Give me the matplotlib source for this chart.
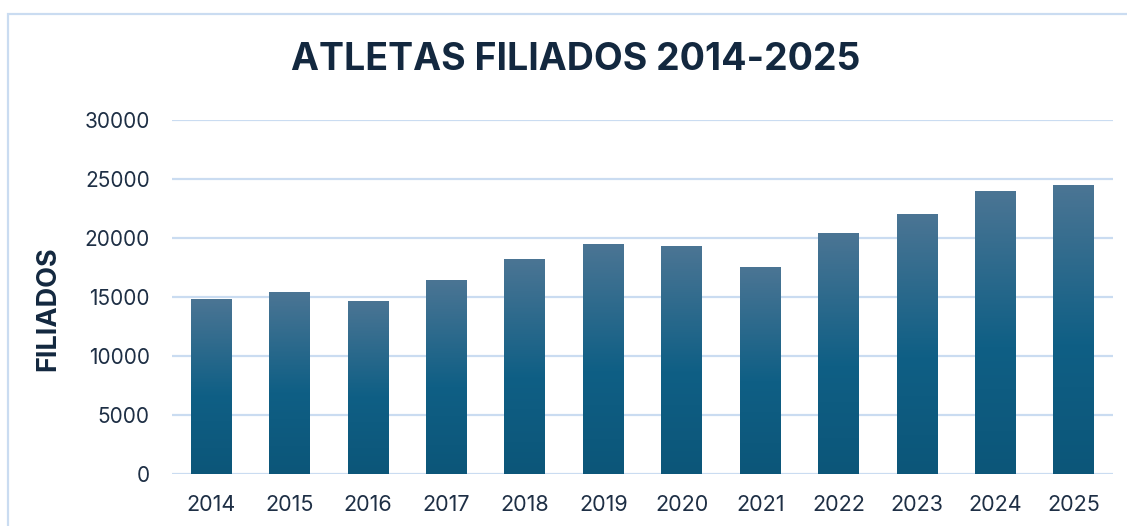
import numpy as np
import matplotlib as mpl
import matplotlib.pyplot as plt
from matplotlib.colors import LinearSegmentedColormap
from matplotlib.patches import Rectangle

years = ['2014', '2015', '2016', '2017', '2018', '2019', '2020', '2021', '2022', '2023', '2024', '2025']
filiados = [14830, 15340, 14580, 16440, 18140, 19490, 19240, 17460, 20420, 21950, 23900, 24490]
y_ticks = [0, 5000, 10000, 15000, 20000, 25000, 30000]

navy = '#13283f'
grid_col = '#cadcf1'

bar_cmap = LinearSegmentedColormap.from_list(
    'bar_grad', [(0.0, '#0c5679'), (0.45, '#0f5f85'), (1.0, '#4b7594')])

mpl.rcParams['font.family'] = ['Inter', 'DejaVu Sans']

fig = plt.figure(figsize=(11.27, 5.26), dpi=100)
ax = fig.add_axes([0.1526, 0.0989, 0.835, 0.673])

x = np.arange(len(years))
bars = ax.bar(x, filiados, width=0.52, color='none', zorder=3)

# gradient fill per bar, placed from the bar geometry
grad = np.linspace(0, 1, 256).reshape(-1, 1)
for b in bars:
    x0, w, h = b.get_x(), b.get_width(), b.get_height()
    ax.imshow(grad, cmap=bar_cmap, origin='lower', aspect='auto',
              extent=[x0, x0 + w, 0, h], zorder=3, interpolation='bilinear')

ax.set_xlim(-0.5, len(years) - 0.5)
ax.set_ylim(0, 30000)
ax.set_yticks(y_ticks)
ax.set_yticklabels([str(t) for t in y_ticks])
ax.set_xticks(x)
ax.set_xticklabels(years)
ax.tick_params(axis='both', length=0, labelsize=15, labelcolor='#1e2f45')
ax.tick_params(axis='y', pad=16)
ax.tick_params(axis='x', pad=15, labelsize=15.5)
ax.yaxis.grid(True, color=grid_col, linewidth=1.6, zorder=0)
ax.set_axisbelow(True)
for s in ax.spines.values():
    s.set_visible(False)

fig.text(0.0426, 0.414, 'FILIADOS', rotation=90, ha='center', va='center',
         fontsize=19.5, fontweight='bold', color=navy)
fig.text(0.511, 0.886, 'ATLETAS FILIADOS 2014-2025', ha='center', va='center',
         fontsize=27, fontweight='bold', color=navy)

fig.patches.append(Rectangle((8 / 1127, -0.1), 1.2, 1 - 14 / 526 + 0.1,
                             transform=fig.transFigure, fill=False,
                             edgecolor=grid_col, linewidth=1.6))

fig.savefig('out.png', dpi=100)
